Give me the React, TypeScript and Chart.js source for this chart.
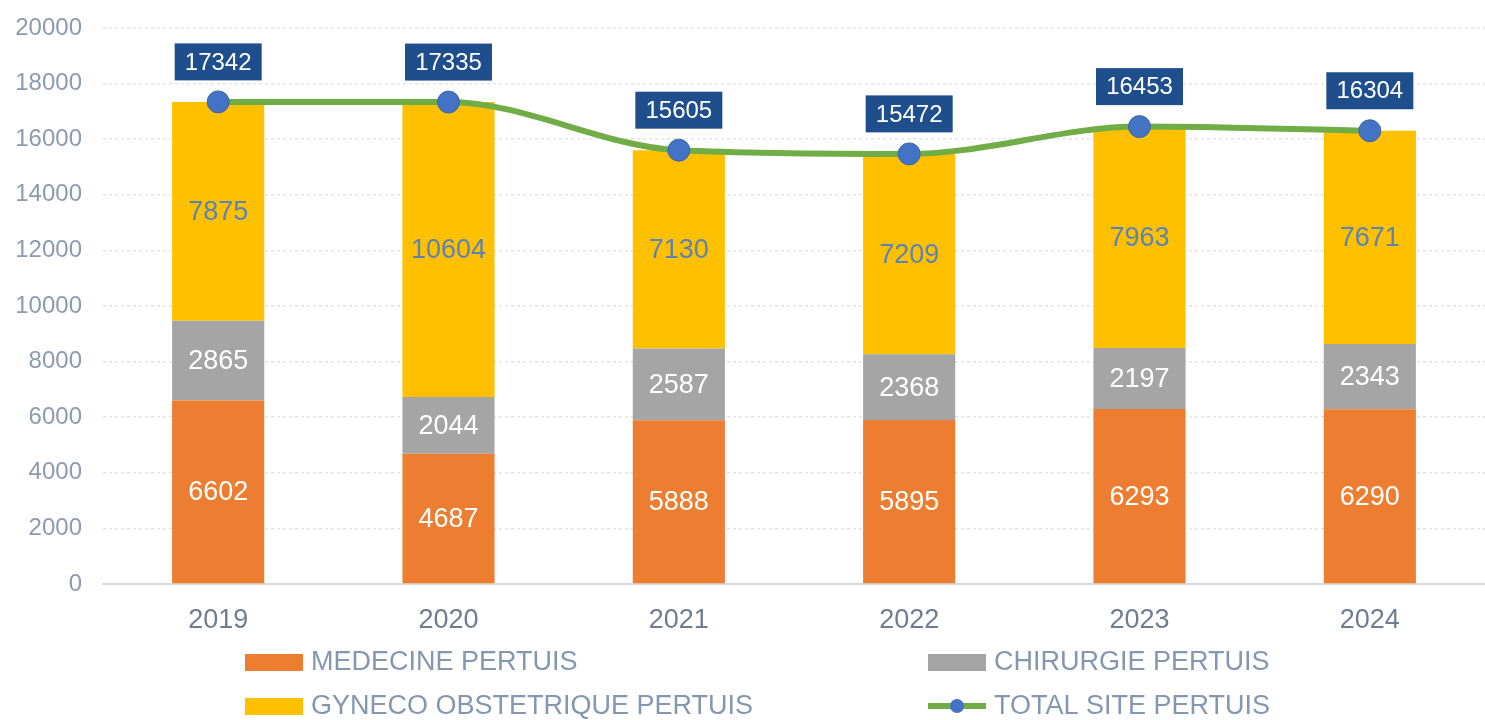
import React, { useEffect, useRef } from "react";
import { Chart, registerables } from "chart.js";

Chart.register(...registerables);

const years = ["2019", "2020", "2021", "2022", "2023", "2024"];
const medecine = [6602, 4687, 5888, 5895, 6293, 6290];
const chirurgie = [2865, 2044, 2587, 2368, 2197, 2343];
const gyneco = [7875, 10604, 7130, 7209, 7963, 7671];
const totalSite = [17342, 17335, 15605, 15472, 16453, 16304];

const labelMedecine = "MEDECINE PERTUIS";
const labelChirurgie = "CHIRURGIE PERTUIS";
const labelGyneco = "GYNECO OBSTETRIQUE PERTUIS";
const labelTotal = "TOTAL SITE PERTUIS";

const FONT = "'Liberation Sans', Arial, sans-serif";

const C_ORANGE = "#ED7D31";
const C_GRAY = "#A5A5A5";
const C_YELLOW = "#FFC000";
const C_GREEN = "#70AD47";
const C_BLUE = "#4472C4";
const C_NAVY = "#1F4E8C";

const dataLabelPlugin = {
  id: "dataLabels",
  afterDatasetsDraw(chart: any) {
    const ctx = chart.ctx;
    ctx.save();
    chart.data.datasets.forEach((ds: any, di: number) => {
      const meta = chart.getDatasetMeta(di);
      if (meta.hidden) return;
      meta.data.forEach((el: any, i: number) => {
        const v = ds.data[i];
        const txt = String(v);
        if (ds.type === "line") {
          ctx.font = `24px ${FONT}`;
          const w = 87;
          const h = 37;
          const cx = el.x;
          const cy = el.y - 40;
          ctx.fillStyle = C_NAVY;
          ctx.fillRect(cx - w / 2, cy - h / 2, w, h);
          ctx.fillStyle = "#FFFFFF";
          ctx.textAlign = "center";
          ctx.textBaseline = "middle";
          ctx.fillText(txt, cx, cy + 1);
        } else {
          const props = el.getProps(["x", "y", "base"], true);
          const cy = (props.y + props.base) / 2;
          ctx.font = `27px ${FONT}`;
          ctx.fillStyle = ds.labelColor;
          ctx.textAlign = "center";
          ctx.textBaseline = "middle";
          ctx.fillText(txt, props.x, cy + 1);
        }
      });
    });
    ctx.restore();
  },
};

const legendPlugin = {
  id: "customLegend",
  afterDraw(chart: any) {
    const ctx = chart.ctx;
    ctx.save();
    const ds = chart.data.datasets;
    const byLabel = (l: string) => ds.find((d: any) => d.label === l);
    const items = [
      { ds: byLabel(labelMedecine), x: 245, y: 662 },
      { ds: byLabel(labelChirurgie), x: 928, y: 662 },
      { ds: byLabel(labelGyneco), x: 245, y: 706 },
      { ds: byLabel(labelTotal), x: 928, y: 706 },
    ];
    ctx.font = `27px ${FONT}`;
    ctx.textBaseline = "middle";
    ctx.textAlign = "left";
    items.forEach((it) => {
      const d = it.ds;
      if (d.type === "line") {
        ctx.strokeStyle = d.borderColor;
        ctx.lineWidth = 6;
        ctx.beginPath();
        ctx.moveTo(it.x, it.y);
        ctx.lineTo(it.x + 58, it.y);
        ctx.stroke();
        ctx.fillStyle = d.pointBackgroundColor;
        ctx.beginPath();
        ctx.arc(it.x + 29, it.y, 7, 0, Math.PI * 2);
        ctx.fill();
      } else {
        ctx.fillStyle = d.backgroundColor;
        ctx.fillRect(it.x, it.y - 8, 58, 17);
      }
      ctx.fillStyle = "#8497B0";
      ctx.fillText(d.label, it.x + 66, it.y + 1);
    });
    ctx.restore();
  },
};

export default function App() {
  const canvasRef = useRef<HTMLCanvasElement | null>(null);

  useEffect(() => {
    document.body.style.margin = "0";
    const canvas = canvasRef.current;
    if (!canvas) return;
    const chart = new Chart(canvas, {
      type: "bar",
      data: {
        labels: years,
        datasets: [
          {
            type: "line",
            label: labelTotal,
            data: totalSite,
            borderColor: C_GREEN,
            borderWidth: 6,
            backgroundColor: C_GREEN,
            pointBackgroundColor: C_BLUE,
            pointBorderColor: "#3B66A8",
            pointBorderWidth: 1,
            pointRadius: 11,
            cubicInterpolationMode: "monotone",
            stack: "total",
            order: 0,
            clip: false,
          } as any,
          {
            type: "bar",
            label: labelMedecine,
            data: medecine,
            backgroundColor: C_ORANGE,
            stack: "s",
            order: 1,
            labelColor: "#FFFFFF",
          } as any,
          {
            type: "bar",
            label: labelChirurgie,
            data: chirurgie,
            backgroundColor: C_GRAY,
            stack: "s",
            order: 1,
            labelColor: "#FFFFFF",
          } as any,
          {
            type: "bar",
            label: labelGyneco,
            data: gyneco,
            backgroundColor: C_YELLOW,
            stack: "s",
            order: 1,
            labelColor: "#5B83B5",
          } as any,
        ],
      },
      options: {
        responsive: true,
        maintainAspectRatio: false,
        animation: false,
        layout: { autoPadding: false, padding: { top: 28, right: 0, left: 0, bottom: 0 } },
        datasets: {
          bar: { barPercentage: 0.4, categoryPercentage: 1 },
        },
        plugins: {
          legend: { display: false },
          tooltip: { enabled: false },
        },
        scales: {
          x: {
            stacked: true,
            grid: { display: false, drawTicks: false },
            border: { display: true, color: "#D9D9D9", width: 2 },
            ticks: {
              color: "#6F7D91",
              font: { family: FONT, size: 27 },
              padding: 20,
            },
            afterFit: (scale: any) => {
              scale.height = 136;
              scale.paddingLeft = 0;
              scale.paddingRight = 0;
            },
          },
          y: {
            stacked: true,
            min: 0,
            max: 20000,
            ticks: {
              stepSize: 2000,
              color: "#8C9BAF",
              font: { family: FONT, size: 24 },
              padding: 21,
              callback: (v: any) => String(v),
            },
            grid: {
              color: "#E3E3E3",
              lineWidth: 1.5,
              drawTicks: false,
            },
            border: { display: false, dash: [3, 3] },
            afterFit: (scale: any) => {
              scale.width = 103;
              scale.paddingTop = 0;
              scale.paddingBottom = 0;
            },
          },
        },
      },
      plugins: [dataLabelPlugin, legendPlugin],
    });
    return () => chart.destroy();
  }, []);

  return (
    <div style={{ width: 1485, height: 720, position: "relative" }}>
      <canvas ref={canvasRef} />
    </div>
  );
}
